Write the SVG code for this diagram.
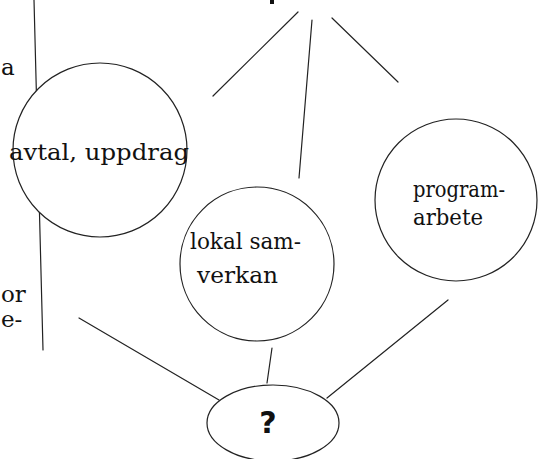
<svg xmlns="http://www.w3.org/2000/svg" width="542" height="459" viewBox="0 0 542 459">
<style>
.ln{stroke:#222;stroke-width:1.2;fill:none;stroke-linecap:round}
.nd{stroke:#222;stroke-width:1.2;fill:#fff}
.t{font-family:"DejaVu Serif","Liberation Serif",serif;font-size:23px;fill:#111}
.q{font-family:"DejaVu Sans","Liberation Sans",sans-serif;font-size:30px;font-weight:bold;fill:#111}
</style>
<rect width="542" height="459" fill="#fff"/>
<g id="margin">
<line class="ln" x1="34" y1="0" x2="43" y2="350"/>
<text class="t" x="1" y="75">a</text>
<text class="t" x="1" y="302">or</text>
<text class="t" x="1" y="327">e-</text>
<rect x="270" y="0" width="4" height="4" fill="#111"/>
</g>
<g id="connectors">
<line class="ln" x1="298" y1="12" x2="213" y2="96"/>
<line class="ln" x1="312" y1="20" x2="299" y2="178"/>
<line class="ln" x1="332" y1="18" x2="398" y2="82"/>
<line class="ln" x1="79" y1="318" x2="219" y2="400"/>
<line class="ln" x1="272" y1="348" x2="267" y2="383"/>
<line class="ln" x1="327" y1="398" x2="448" y2="300"/>
</g>
<g id="avtal">
<circle class="nd" cx="100" cy="150" r="87"/>
<text class="t" x="9" y="160" textLength="180" lengthAdjust="spacingAndGlyphs">avtal, uppdrag</text>
</g>
<g id="lokal">
<circle class="nd" cx="257" cy="264" r="77"/>
<text class="t" x="190" y="249" textLength="111" lengthAdjust="spacingAndGlyphs">lokal sam-</text>
<text class="t" x="197" y="283" textLength="81" lengthAdjust="spacingAndGlyphs">verkan</text>
</g>
<g id="program">
<circle class="nd" cx="456" cy="200" r="81"/>
<text class="t" x="413" y="197" textLength="92" lengthAdjust="spacingAndGlyphs">program-</text>
<text class="t" x="413" y="225" textLength="70" lengthAdjust="spacingAndGlyphs">arbete</text>
</g>
<g id="question">
<ellipse class="nd" cx="273" cy="423" rx="66" ry="38"/>
<text class="q" x="268" y="433" text-anchor="middle">?</text>
</g>
</svg>
